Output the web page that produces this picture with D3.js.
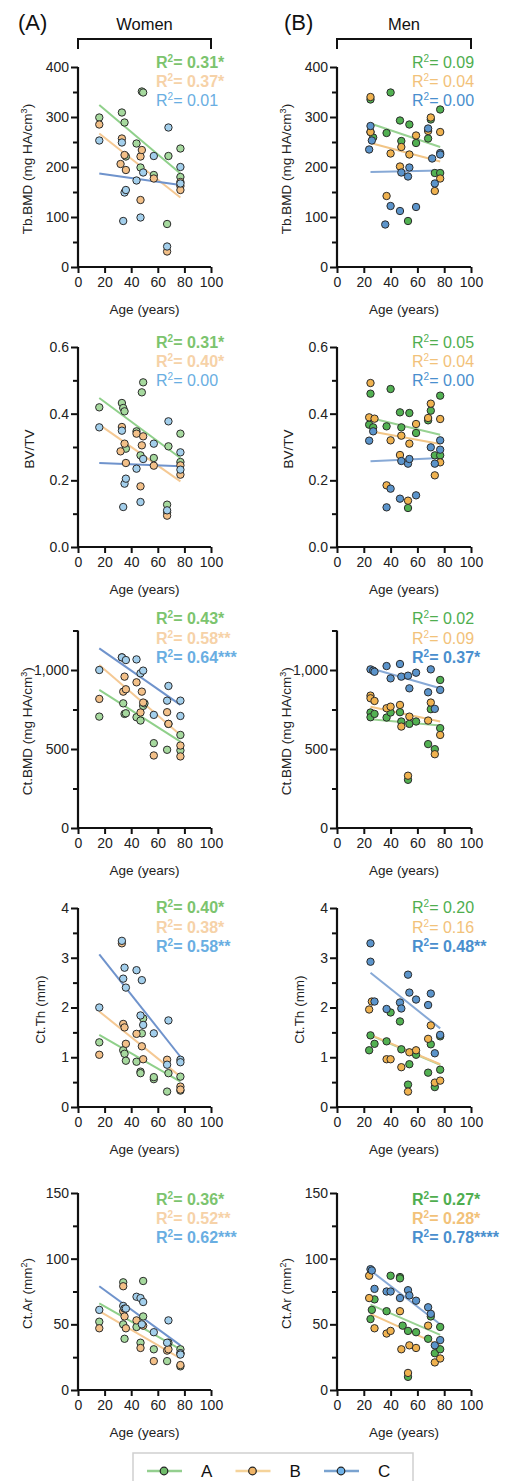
<!DOCTYPE html>
<html><head><meta charset="utf-8">
<script src="https://cdn.jsdelivr.net/npm/d3@7"></script>
<style>body{margin:0;background:#fff} svg{display:block;font-family:"Liberation Sans",Arial,Helvetica,sans-serif}</style>
</head><body><svg id="c" width="508" height="1481"></svg>
<script>
// ---------- categories / labels ----------
const groups = ["A", "B", "C"];
const columns = ["Women", "Men"];
const panelLetters = ["(A)", "(B)"];
const yTitles = [["Tb.BMD (mg HA/cm", "3", ")"], ["BV/TV", "", ""], ["Ct.BMD (mg HA/cm", "3", ")"], ["Ct.Th (mm)", "", ""], ["Ct.Ar (mm", "2", ")"]];
const xTitle = "Age (years)";
const yDomains = [[0, 400], [0, 0.6], [0, 1250], [0, 4], [0, 150]];
const yMajorTicks = [[0, 100, 200, 300, 400], [0, 0.2, 0.4, 0.6], [0, 500, 1000], [0, 1, 2, 3, 4], [0, 50, 100, 150]];
const yMinorTicks = [[50, 150, 250, 350], [0.1, 0.3, 0.5], [250, 750, 1250], [0.5, 1.5, 2.5, 3.5], [25, 75, 125]];
const yTickFormats = [",", ".1f", ",", "d", "d"];
const xTicks = [0, 20, 40, 60, 80, 100];

// ---------- Women: [age, value] ----------
const W_TbBMD_A = [[16,299],[33,309],[35,289],[36,221],[44,247],[47,199],[48,351],[49,349],[57,184],[67,86],[68,222],[77,237],[77,180]];
const W_TbBMD_B = [[16,285],[32,206],[33,257],[35,224],[36,194],[47,134],[47,221],[48,234],[57,177],[67,31],[77,162],[77,154],[77,170]];
const W_TbBMD_C = [[16,253],[33,249],[34,92],[35,149],[36,154],[44,173],[47,99],[49,189],[57,222],[67,41],[68,279],[77,200],[77,167]];
const W_TbBMD_fit = [[[16,324],[77,187]], [[16,267],[77,139]], [[16,187],[77,164]]];
const W_TbBMD_r2 = ["0.31*", "0.37*", "0.01"];

const W_BVTV_A = [[16,0.419],[33,0.432],[34,0.417],[35,0.407],[36,0.295],[44,0.347],[47,0.275],[48,0.464],[49,0.494],[57,0.267],[67,0.127],[67,0.104],[68,0.302],[77,0.34],[77,0.255]];
const W_BVTV_B = [[32,0.287],[33,0.36],[35,0.31],[36,0.252],[44,0.34],[47,0.182],[48,0.305],[49,0.332],[57,0.244],[67,0.094],[77,0.217],[77,0.245]];
const W_BVTV_C = [[16,0.359],[33,0.349],[34,0.12],[35,0.19],[36,0.205],[44,0.235],[47,0.135],[49,0.264],[57,0.31],[67,0.11],[68,0.377],[77,0.284],[77,0.232]];
const W_BVTV_fit = [[[16,0.447],[77,0.267]], [[16,0.367],[77,0.197]], [[16,0.252],[77,0.242]]];
const W_BVTV_r2 = ["0.31*", "0.40*", "0.00"];

const W_CtBMD_A = [[16,705],[34,789],[35,722],[36,726],[44,701],[47,680],[49,773],[50,789],[57,537],[67,495],[68,659],[77,589],[77,491]];
const W_CtBMD_B = [[16,817],[33,1080],[34,863],[35,958],[36,878],[44,922],[47,731],[48,863],[49,794],[57,459],[67,733],[68,659],[77,522],[77,453]];
const W_CtBMD_C = [[16,1000],[33,1080],[36,1063],[44,1067],[47,979],[49,996],[57,716],[67,806],[68,899],[77,806],[77,709]];
const W_CtBMD_fit = [[[16,874],[77,547]], [[16,1032],[77,589]], [[16,1137],[77,779]]];
const W_CtBMD_r2 = ["0.43*", "0.58**", "0.64***"];

const W_CtTh_A = [[16,1.3],[34,1.14],[35,1.07],[36,0.93],[44,0.91],[47,0.71],[47,0.68],[48,1.48],[49,1.78],[57,0.56],[57,0.6],[67,0.31],[68,0.68],[77,0.61],[77,0.33]];
const W_CtTh_B = [[16,1.05],[33,3.29],[34,1.67],[35,1.6],[36,1.27],[44,1.47],[48,1.22],[49,0.96],[67,0.95],[77,0.41],[77,0.35]];
const W_CtTh_C = [[16,2.0],[33,3.34],[34,2.58],[35,2.8],[36,2.4],[44,2.75],[47,1.84],[48,2.55],[49,1.65],[57,1.48],[67,0.85],[68,1.74],[77,0.95],[77,0.9]];
const W_CtTh_fit = [[[16,1.45],[77,0.51]], [[16,1.92],[77,0.61]], [[16,3.07],[77,1.01]]];
const W_CtTh_r2 = ["0.40*", "0.38*", "0.58**"];

const W_CtAr_A = [[16,52],[34,82],[34,50],[35,39],[44,48],[47,36],[49,56],[49,83],[57,31],[67,22],[68,36],[77,31],[77,18]];
const W_CtAr_B = [[16,47],[34,79],[34,60],[35,56],[36,47],[44,53],[47,32],[49,49],[57,22],[67,30],[68,31],[77,28],[77,19]];
const W_CtAr_C = [[16,61],[34,64],[35,62],[36,62],[44,71],[47,70],[48,50],[49,67],[57,44],[67,36],[68,53],[77,28],[77,27]];
const W_CtAr_fit = [[[16,66],[77,31]], [[16,60],[77,24]], [[16,79],[77,34]]];
const W_CtAr_r2 = ["0.36*", "0.52**", "0.62***"];

// ---------- Men: [age, value] ----------
const M_TbBMD_A = [[25,335],[25,270],[27,259],[37,268],[40,349],[47,293],[48,252],[53,92],[54,285],[59,248],[68,257],[70,295],[73,188],[77,315],[77,188]];
const M_TbBMD_B = [[25,340],[25,270],[37,142],[40,227],[47,201],[48,240],[54,225],[59,263],[68,272],[70,299],[73,152],[77,270],[77,177]];
const M_TbBMD_C = [[24,235],[25,282],[26,253],[36,85],[40,122],[47,112],[48,189],[53,181],[54,199],[59,120],[68,277],[71,217],[73,167],[77,228],[77,225]];
const M_TbBMD_fit = [[[25,287],[77,240]], [[25,248],[77,211]], [[25,190],[77,193]]];
const M_TbBMD_r2 = ["0.09", "0.04", "0.00"];

const M_BVTV_A = [[25,0.46],[24,0.367],[27,0.359],[37,0.362],[40,0.474],[47,0.404],[48,0.359],[53,0.117],[54,0.402],[59,0.342],[68,0.38],[70,0.409],[73,0.275],[77,0.454],[77,0.275]];
const M_BVTV_B = [[25,0.492],[24,0.389],[28,0.385],[37,0.185],[40,0.32],[47,0.276],[48,0.334],[53,0.139],[54,0.31],[59,0.369],[68,0.387],[70,0.43],[73,0.215],[77,0.384],[77,0.254]];
const M_BVTV_C = [[24,0.319],[27,0.347],[37,0.119],[40,0.175],[47,0.145],[48,0.258],[53,0.25],[54,0.264],[59,0.155],[70,0.299],[73,0.25],[77,0.32],[77,0.292]];
const M_BVTV_fit = [[[25,0.387],[77,0.337]], [[25,0.347],[77,0.309]], [[25,0.257],[77,0.267]]];
const M_BVTV_r2 = ["0.05", "0.04", "0.00"];

const M_CtBMD_A = [[25,731],[25,701],[28,722],[37,699],[40,731],[47,733],[48,674],[53,305],[54,659],[59,674],[68,531],[70,752],[73,499],[77,632],[77,937]];
const M_CtBMD_B = [[25,838],[25,821],[28,804],[37,758],[40,768],[47,779],[48,642],[53,331],[54,705],[68,680],[70,794],[73,467],[77,589]];
const M_CtBMD_C = [[25,1004],[27,996],[28,989],[37,1025],[40,947],[47,1038],[48,958],[53,964],[54,884],[59,983],[68,859],[70,1004],[73,754],[77,874]];
const M_CtBMD_fit = [[[25,688],[77,648]], [[25,768],[77,674]], [[25,1011],[77,884]]];
const M_CtBMD_r2 = ["0.02", "0.09", "0.37*"];

const M_CtTh_A = [[25,1.44],[24,1.14],[28,1.27],[37,1.32],[40,1.9],[47,1.72],[48,1.16],[53,0.45],[54,0.86],[59,1.05],[68,0.69],[70,1.26],[73,0.4],[77,0.75],[77,1.42]];
const M_CtTh_B = [[24,1.96],[26,2.12],[37,0.96],[40,0.96],[48,0.8],[53,0.31],[54,1.1],[59,1.14],[68,1.37],[70,1.64],[73,0.49],[77,0.53]];
const M_CtTh_C = [[25,3.29],[25,2.92],[28,2.12],[37,1.97],[47,2.1],[48,1.98],[53,2.66],[54,2.3],[59,2.16],[68,2.05],[70,2.28],[73,1.08],[77,1.45]];
const M_CtTh_fit = [[[25,1.44],[77,0.85]], [[25,1.45],[77,0.86]], [[25,2.7],[77,1.58]]];
const M_CtTh_r2 = ["0.20", "0.16", "0.48**"];

const M_CtAr_A = [[25,54],[26,61],[28,69],[37,60],[40,87],[47,86],[47,85],[49,49],[53,45],[53,10],[59,44],[68,39],[70,56],[73,28],[77,48],[77,31]];
const M_CtAr_B = [[24,87],[24,70],[28,47],[37,43],[40,45],[47,60],[48,31],[53,13],[54,34],[59,32],[68,49],[73,21],[77,24]];
const M_CtAr_C = [[25,92],[26,91],[28,77],[37,75],[40,75],[47,70],[53,76],[54,72],[59,68],[68,63],[70,58],[73,34],[77,38]];
const M_CtAr_fit = [[[25,65],[77,42]], [[25,58],[77,34]], [[25,91],[77,50]]];
const M_CtAr_r2 = ["0.27*", "0.28*", "0.78****"];

// ---------- assemble ----------
const panels = [
  [ {pts:[W_TbBMD_A,W_TbBMD_B,W_TbBMD_C], fit:W_TbBMD_fit, r2:W_TbBMD_r2},
    {pts:[W_BVTV_A,W_BVTV_B,W_BVTV_C], fit:W_BVTV_fit, r2:W_BVTV_r2},
    {pts:[W_CtBMD_A,W_CtBMD_B,W_CtBMD_C], fit:W_CtBMD_fit, r2:W_CtBMD_r2},
    {pts:[W_CtTh_A,W_CtTh_B,W_CtTh_C], fit:W_CtTh_fit, r2:W_CtTh_r2},
    {pts:[W_CtAr_A,W_CtAr_B,W_CtAr_C], fit:W_CtAr_fit, r2:W_CtAr_r2} ],
  [ {pts:[M_TbBMD_A,M_TbBMD_B,M_TbBMD_C], fit:M_TbBMD_fit, r2:M_TbBMD_r2},
    {pts:[M_BVTV_A,M_BVTV_B,M_BVTV_C], fit:M_BVTV_fit, r2:M_BVTV_r2},
    {pts:[M_CtBMD_A,M_CtBMD_B,M_CtBMD_C], fit:M_CtBMD_fit, r2:M_CtBMD_r2},
    {pts:[M_CtTh_A,M_CtTh_B,M_CtTh_C], fit:M_CtTh_fit, r2:M_CtTh_r2},
    {pts:[M_CtAr_A,M_CtAr_B,M_CtAr_C], fit:M_CtAr_fit, r2:M_CtAr_r2} ]
];

// ---------- styles / layout ----------
const colX = [[78, 211], [337, 471]];
const rowY = [[267, 67], [547, 347], [828, 630.5], [1107, 908], [1390, 1193]];
const r2Y = [[62, 81, 100], [342, 361, 380], [618, 638, 657], [907, 927, 946], [1199, 1218, 1237]];
const r2X = [156, 412];
const yTitleOff = [46, 44, 46, 33, 46];
const fillCol = [["#a6d99e", "#f3c088", "#a3cfec"], ["#52b152", "#f0b24f", "#5b94cb"]];
const lineCol = [["#8fd08a", "#f5c994", "#6f93cc"], ["#98d292", "#f2c586", "#87a9d6"]];
const textCol = [["#7cc46e", "#f6d2a8", "#69aee2"], ["#4fae4f", "#f2c27a", "#4a8fce"]];
const legendFill = ["#6fbc6a", "#f0b466", "#6fb3ea"];
const legendLine = ["#94cf8f", "#f5d39a", "#7aa3d0"];

const svg = d3.select("#c");
const ink = "#111";

columns.forEach((cname, ci) => {
  const [x0, x1] = colX[ci];
  // header
  svg.append("text").attr("x", ci === 0 ? 18 : 284).attr("y", 30).attr("font-size", 22).attr("fill", ink).text(panelLetters[ci]);
  svg.append("text").attr("x", (x0 + x1) / 2).attr("y", 30).attr("text-anchor", "middle").attr("font-size", 16.5).attr("fill", ink).text(cname);
  svg.append("path").attr("d", `M${x0},49V39H${x1}V49`).attr("fill", "none").attr("stroke", ink).attr("stroke-width", 2);

  panels[ci].forEach((p, ri) => {
    const [yb, yt] = rowY[ri];
    const x = d3.scaleLinear().domain([0, 100]).range([x0, x1]);
    const y = d3.scaleLinear().domain(yDomains[ri]).range([yb, yt]);
    const g = svg.append("g");

    // fit lines
    p.fit.forEach((seg, k) => {
      g.append("path").attr("d", d3.line().x(d => x(d[0])).y(d => y(d[1]))(seg))
        .attr("stroke", lineCol[ci][k]).attr("stroke-width", 2).attr("fill", "none");
    });
    // points
    p.pts.forEach((arr, k) => {
      g.selectAll(null).data(arr).enter().append("circle")
        .attr("cx", d => x(d[0])).attr("cy", d => y(d[1])).attr("r", 3.7)
        .attr("fill", fillCol[ci][k]).attr("stroke", "#2b2b2b").attr("stroke-width", 1);
    });

    // y axis
    const ya = svg.append("g").attr("transform", `translate(${x0},0)`)
      .call(d3.axisLeft(y).tickValues(yMajorTicks[ri]).tickFormat(d3.format(yTickFormats[ri])).tickSize(7).tickPadding(2));
    ya.selectAll(".tick line").attr("stroke", ink).attr("stroke-width", 2);
    ya.selectAll(".tick text").attr("font-size", 14).attr("fill", "#222").attr("font-family", "Liberation Sans, Arial, sans-serif");
    ya.select(".domain").attr("stroke", ink).attr("stroke-width", 2.2).attr("d", `M0,${yb}V${yt}`);
    const ym = svg.append("g").attr("transform", `translate(${x0},0)`)
      .call(d3.axisLeft(y).tickValues(yMinorTicks[ri]).tickFormat("").tickSize(5));
    ym.select(".domain").remove();
    ym.selectAll(".tick line").attr("stroke", ink).attr("stroke-width", 2);

    // x axis
    const xa = svg.append("g").attr("transform", `translate(0,${yb})`)
      .call(d3.axisBottom(x).tickValues(xTicks).tickSize(6).tickPadding(4));
    xa.selectAll(".tick line").attr("stroke", ink).attr("stroke-width", 2);
    xa.selectAll(".tick text").attr("font-size", 14).attr("fill", "#222").attr("font-family", "Liberation Sans, Arial, sans-serif");
    xa.select(".domain").attr("stroke", ink).attr("stroke-width", 2.2).attr("d", `M${x0 - 1},0H${x1}`);

    svg.append("text").attr("x", (x0 + x1) / 2).attr("y", yb + 47).attr("text-anchor", "middle")
      .attr("font-size", 13.5).attr("fill", "#222").text(xTitle);

    // y title
    const t = yTitles[ri];
    const yt2 = svg.append("text").attr("transform", `translate(${x0 - yTitleOff[ri]},${(yb + yt) / 2 + 2}) rotate(-90)`)
      .attr("text-anchor", "middle").attr("font-size", 13.5).attr("fill", "#222");
    yt2.append("tspan").text(t[0]);
    if (t[1]) {
      yt2.append("tspan").attr("dy", -5).attr("font-size", 9).text(t[1]);
      yt2.append("tspan").attr("dy", 5).text(t[2]);
    }

    // R2 labels
    p.r2.forEach((lab, k) => {
      const tt = svg.append("text").attr("x", r2X[ci]).attr("y", r2Y[ri][k] + 6)
        .attr("font-size", 16).attr("fill", textCol[ci][k])
        .attr("font-weight", lab.includes("*") ? "bold" : "normal");
      tt.append("tspan").text("R");
      tt.append("tspan").attr("dy", -6).attr("font-size", 10).text("2");
      tt.append("tspan").attr("dy", 6).text("= " + lab);
    });
  });
});

// legend
const leg = svg.append("g");
leg.append("rect").attr("x", 133).attr("y", 1453).attr("width", 280).attr("height", 40)
  .attr("fill", "#fff").attr("stroke", "#cfcfcf").attr("stroke-width", 1.5);
const legX = d3.scalePoint().domain(groups).range([147, 324]);
groups.forEach((gname, k) => {
  const lx = legX(gname);
  leg.append("line").attr("x1", lx).attr("x2", lx + 35).attr("y1", 1471).attr("y2", 1471)
    .attr("stroke", legendLine[k]).attr("stroke-width", 2.5);
  leg.append("circle").attr("cx", lx + 17).attr("cy", 1471).attr("r", 3.8)
    .attr("fill", legendFill[k]).attr("stroke", "#222").attr("stroke-width", 1.2);
  leg.append("text").attr("x", lx + 54).attr("y", 1477).attr("font-size", 17).attr("fill", "#111").text(gname);
});
</script></body></html>
